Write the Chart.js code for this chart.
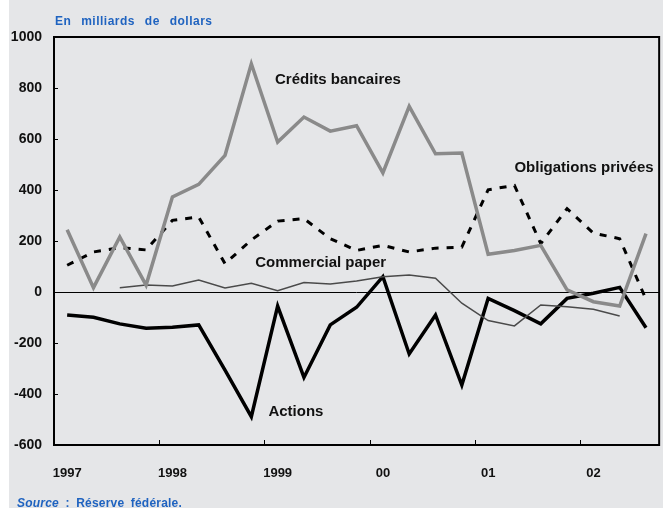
<!DOCTYPE html>
<html>
<head>
<meta charset="utf-8">
<script src="https://cdn.jsdelivr.net/npm/chart.js@4"></script>
<style>
  html, body { margin: 0; padding: 0; background: #fff; overflow: hidden; }
  #wrap { position: absolute; left: 9px; top: 0; width: 654px; height: 508px; background: #e5e6e8; }
  #chartBox { position: absolute; left: 0; top: 0; width: 663px; height: 508px; overflow: hidden; }
  .note { position: absolute; font-family: "Liberation Sans", Arial, sans-serif; font-weight: bold; color: #1f63c0; font-size: 12px; }
  #unit { left: 55px; top: 14px; word-spacing: 6px; letter-spacing: 0.5px; }
  #source { left: 17px; top: 496px; word-spacing: 3px; letter-spacing: 0.2px; }
</style>
</head>
<body>
<div id="wrap"></div>
<div id="chartBox"><canvas id="flowChart" width="667" height="508"></canvas></div>
<div class="note" id="unit">En milliards de dollars</div>
<div class="note" id="source"><i>Source</i> : Réserve fédérale.</div>
<script>
// quarters 1997 Q1 .. 2002 Q3
const quarters = ["1997 T1","1997 T2","1997 T3","1997 T4","1998 T1","1998 T2","1998 T3","1998 T4",
  "1999 T1","1999 T2","1999 T3","1999 T4","2000 T1","2000 T2","2000 T3","2000 T4",
  "2001 T1","2001 T2","2001 T3","2001 T4","2002 T1","2002 T2","2002 T3"];
const yearLabels = { 0: "1997", 4: "1998", 8: "1999", 12: "00", 16: "01", 20: "02" };
const yTicks = [1000, 800, 600, 400, 200, 0, -200, -400, -600];

const creditsBancaires = [244, 17, 216, 27, 373, 422, 536, 895, 588, 686, 631, 652, 467, 728, 542, 545, 148, 163, 183, 8, -38, -55, 229];
const obligationsPrivees = [105, 157, 174, 165, 281, 294, 111, 204, 278, 288, 209, 163, 183, 157, 172, 176, 401, 418, 190, 327, 231, 209, -29];
const commercialPaper = [null, null, 17, 27, 24, 47, 16, 34, 5, 37, 31, 43, 60, 67, 54, -44, -112, -133, -51, -58, -68, -94, null];
const actions = [-90, -99, -125, -142, -138, -129, -306, -489, -55, -335, -129, -60, 60, -243, -90, -365, -25, -73, -125, -25, -5, 18, -140];

// series name labels: [text, x index, y value]
const seriesLabels = [
  ["Crédits bancaires", 7.9, 832],
  ["Obligations privées", 17.0, 487],
  ["Commercial paper", 7.15, 113],
  ["Actions", 7.65, -470]
];

const FONT = "'Liberation Sans', Arial, sans-serif";

// frame, inner ticks and series names
const decor = {
  id: "decor",
  afterDatasetsDraw(chart) {
    const c = chart.ctx, a = chart.chartArea;
    const xs = chart.scales.x, ys = chart.scales.y;
    c.save();
    c.strokeStyle = "#000";
    c.lineWidth = 1;
    // inner ticks on y axis
    yTicks.forEach(v => {
      const y = Math.round(ys.getPixelForValue(v)) + 0.5;
      c.beginPath(); c.moveTo(a.left, y); c.lineTo(a.left + 4, y); c.stroke();
    });
    // inner ticks on x axis at year boundaries
    for (let i = 3.5; i < quarters.length; i += 4) {
      const x = Math.round(xs.getPixelForValue(i)) + 0.5;
      c.beginPath(); c.moveTo(x, a.bottom); c.lineTo(x, a.bottom - 5); c.stroke();
    }
    c.lineWidth = 2;
    c.strokeRect(a.left, a.top, a.right - a.left, a.bottom - a.top);
    c.fillStyle = "#111";
    c.font = "bold 15px " + FONT;
    c.textBaseline = "middle";
    seriesLabels.forEach(([t, xi, yv]) => {
      c.fillText(t, xs.getPixelForValue(xi), ys.getPixelForValue(yv));
    });
    c.restore();
  }
};

const chart = new Chart(document.getElementById("flowChart").getContext("2d"), {
  type: "line",
  data: {
    labels: quarters,
    datasets: [
      { label: "Crédits bancaires", data: creditsBancaires, borderColor: "#8a8a8a", borderWidth: 3.5 },
      { label: "Obligations privées", data: obligationsPrivees, borderColor: "#000", borderWidth: 3, borderDash: [7, 8] },
      { label: "Commercial paper", data: commercialPaper, borderColor: "#4a4a4a", borderWidth: 1.5 },
      { label: "Actions", data: actions, borderColor: "#000", borderWidth: 3.5 }
    ]
  },
  options: {
    responsive: false,
    animation: false,
    layout: { padding: { left: 0, top: 37, right: 0, bottom: 0 } },
    elements: { point: { radius: 0 }, line: { tension: 0, borderJoinStyle: "miter" } },
    plugins: { legend: { display: false }, tooltip: { enabled: false } },
    scales: {
      x: {
        type: "category",
        offset: true,
        grid: { display: false, drawTicks: false },
        border: { display: false },
        afterFit: s => { s.height = 63; },
        ticks: {
          autoSkip: false, maxRotation: 0, padding: 21,
          color: "#111", font: { family: FONT, size: 13, weight: "bold" },
          callback: (v, i) => yearLabels[i] || ""
        }
      },
      y: {
        min: -600, max: 1000,
        afterFit: s => { s.width = 54; },
        afterBuildTicks: s => { s.ticks = yTicks.map(v => ({ value: v })); },
        grid: {
          drawTicks: false,
          color: c => c.tick && c.tick.value === 0 ? "#000" : "rgba(0,0,0,0)",
          lineWidth: 1
        },
        border: { display: false },
        ticks: {
          padding: 12, color: "#111",
          font: { family: FONT, size: 14, weight: "bold" },
          callback: v => String(v)
        }
      }
    }
  },
  plugins: [decor]
});
</script>
</body>
</html>
